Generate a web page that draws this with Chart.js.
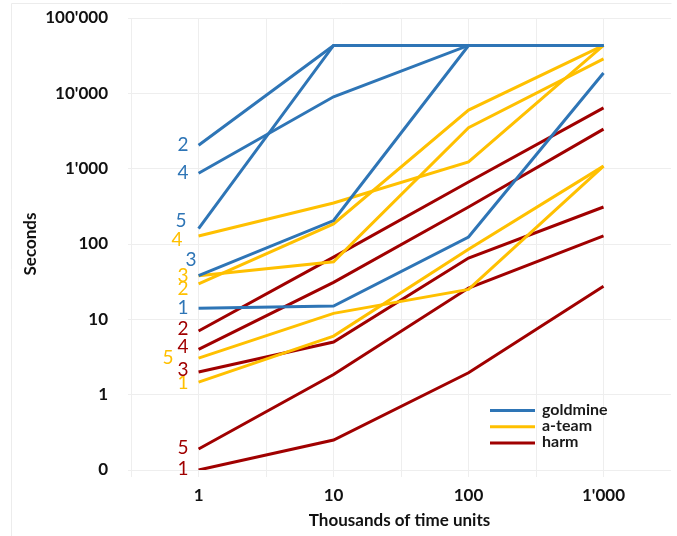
<!DOCTYPE html>
<html>
<head>
<meta charset="utf-8">
<script src="https://cdn.jsdelivr.net/npm/chart.js@4"></script>
<style>
html,body{margin:0;padding:0;background:#fff;}
#wrap{position:relative;width:677px;height:536px;}
</style>
</head>
<body>
<div id="wrap"><canvas id="c" width="677" height="536"></canvas></div>
<script>
// ---- data ----
const xValues = [1, 10, 100, 1000];
const xTickLabels = ['1', '10', '100', "1'000"];
const yTickLabels = ['0', '1', '10', '100', "1'000", "10'000", "100'000"];
const seriesNames = ['goldmine', 'a-team', 'harm'];
const lineIds = ['1', '2', '3', '4', '5'];

const goldmine1 = [14, 15, 124, 18600];
const goldmine2 = [2050, 43200, 43200, 43200];
const goldmine3 = [38, 205, 43200, 43200];
const goldmine4 = [870, 9000, 43200, 43200];
const goldmine5 = [160, 43200, 43200, 43200];

const ateam1 = [1.47, 6.0, 85, 1080];
const ateam2 = [29.5, 185, 6000, 43200];
const ateam3 = [38, 58, 3500, 28600];
const ateam4 = [128, 350, 1230, 43200];
const ateam5 = [3.05, 12, 25, 1080];

const harm1 = [0.1, 0.25, 1.95, 27.5];
const harm2 = [7.0, 67, 665, 6400];
const harm3 = [2.0, 5.0, 65, 310];
const harm4 = [4.0, 31, 310, 3350];
const harm5 = [0.19, 1.85, 26, 128];

// ---- styling ----
const colors = { 'goldmine': '#2E75B6', 'a-team': '#FFC000', 'harm': '#A00000' };
const groups = {
  'goldmine': [goldmine1, goldmine2, goldmine3, goldmine4, goldmine5],
  'a-team': [ateam1, ateam2, ateam3, ateam4, ateam5],
  'harm': [harm1, harm2, harm3, harm4, harm5]
};
// label nudges [dx, dy] for the start-point numbers
const nudges = {
  'goldmine': [[0,0],[0,0],[8,-16],[0,0],[-2,-8]],
  'a-team':   [[0,1],[0,5],[0,0],[-6,4],[-15,0]],
  'harm':     [[0,-1],[0,-2],[0,-2],[0,-2],[0,-1]]
};

const datasets = [];
seriesNames.forEach(name => {
  groups[name].forEach((vals, i) => {
    datasets.push({
      label: name + ' ' + lineIds[i],
      group: name,
      lineId: lineIds[i],
      nudge: nudges[name][i],
      data: xValues.map((x, k) => ({ x: x, y: vals[k] })),
      borderColor: colors[name],
      backgroundColor: colors[name],
      borderWidth: 3,
      pointRadius: 0,
      tension: 0,
      fill: false
    });
  });
});

const FONT = 'Lato, "Open Sans", sans-serif';

const labelPlugin = {
  id: 'startLabels',
  afterDatasetsDraw(chart) {
    const ctx = chart.ctx;
    ctx.save();
    ctx.font = '19px ' + FONT;
    ctx.textAlign = 'right';
    ctx.textBaseline = 'middle';
    chart.data.datasets.forEach((ds, di) => {
      const meta = chart.getDatasetMeta(di);
      const p = meta.data[0];
      ctx.fillStyle = ds.borderColor;
      ctx.fillText(ds.lineId, p.x - 10 + ds.nudge[0], p.y + ds.nudge[1]);
    });
    ctx.restore();
  }
};

const legendPlugin = {
  id: 'customLegend',
  afterDraw(chart) {
    const ctx = chart.ctx;
    const a = chart.chartArea;
    const x0 = a.right - 181, y0 = a.bottom - 59.5;
    ctx.save();
    ctx.font = 'bold 16px ' + FONT;
    ctx.textBaseline = 'middle';
    ctx.textAlign = 'left';
    seriesNames.forEach((name, i) => {
      const y = y0 + i * 16.3;
      ctx.strokeStyle = colors[name];
      ctx.lineWidth = 3;
      ctx.beginPath();
      ctx.moveTo(x0, y);
      ctx.lineTo(x0 + 45, y);
      ctx.stroke();
      ctx.fillStyle = '#1a1a1a';
      ctx.fillText(name, x0 + 52, y - 1);
    });
    ctx.restore();
  }
};

const framePlugin = {
  id: 'frame',
  beforeDraw(chart) {
    const ctx = chart.ctx;
    ctx.save();
    ctx.fillStyle = '#fff';
    ctx.fillRect(0, 0, chart.width, chart.height);
    ctx.strokeStyle = '#ececec';
    ctx.lineWidth = 1;
    ctx.beginPath();
    ctx.moveTo(11.5, chart.height);
    ctx.lineTo(11.5, 3.5);
    ctx.lineTo(671.5, 3.5);
    ctx.stroke();
    ctx.restore();
  }
};

new Chart(document.getElementById('c'), {
  type: 'line',
  data: { datasets: datasets },
  plugins: [framePlugin, labelPlugin, legendPlugin],
  options: {
    responsive: false,
    animation: false,
    parsing: true,
    layout: { padding: { left: 20, right: 6, top: 18, bottom: 5 } },
    plugins: { legend: { display: false }, tooltip: { enabled: false } },
    scales: {
      x: {
        type: 'logarithmic',
        min: Math.pow(10, -0.5),
        max: Math.pow(10, 3.5),
        afterBuildTicks: s => { s.ticks = [-0.5,0,0.5,1,1.5,2,2.5,3,3.5].map(e => ({ value: Math.pow(10, e) })); },
        afterFit: s => { s.height = 61; },
        ticks: {
          autoSkip: false, maxRotation: 0, padding: 5,
          color: '#111',
          font: { family: FONT, size: 17, weight: 'bold', lineHeight: 1.6 },
          callback: (v, i) => (i % 2 === 1 ? xTickLabels[(i - 1) / 2] : '')
        },
        grid: {
          color: c => (c.index === 8 ? 'rgba(0,0,0,0)' : '#eeeeee'),
          lineWidth: 1, tickLength: 7, drawTicks: true
        },
        border: { display: false },
        title: {
          display: true, text: 'Thousands of time units', color: '#111',
          font: { family: FONT, size: 17, weight: 'bold' }, padding: 0
        }
      },
      y: {
        type: 'logarithmic',
        min: 0.1,
        max: 100000,
        afterBuildTicks: s => { s.ticks = [-1,0,1,2,3,4,5].map(e => ({ value: Math.pow(10, e) })); },
        afterFit: s => { s.width = 108; },
        ticks: {
          autoSkip: false, padding: 5,
          color: '#111',
          font: { family: FONT, size: 17, weight: 'bold' },
          callback: (v, i) => yTickLabels[i]
        },
        grid: { color: '#eeeeee', lineWidth: 1, drawTicks: true, tickLength: 15, tickColor: 'rgba(0,0,0,0)' },
        border: { display: false },
        title: {
          display: true, text: 'Seconds', color: '#111',
          font: { family: FONT, size: 17, weight: 'bold' }, padding: 0
        }
      }
    }
  }
});
</script>
</body>
</html>
